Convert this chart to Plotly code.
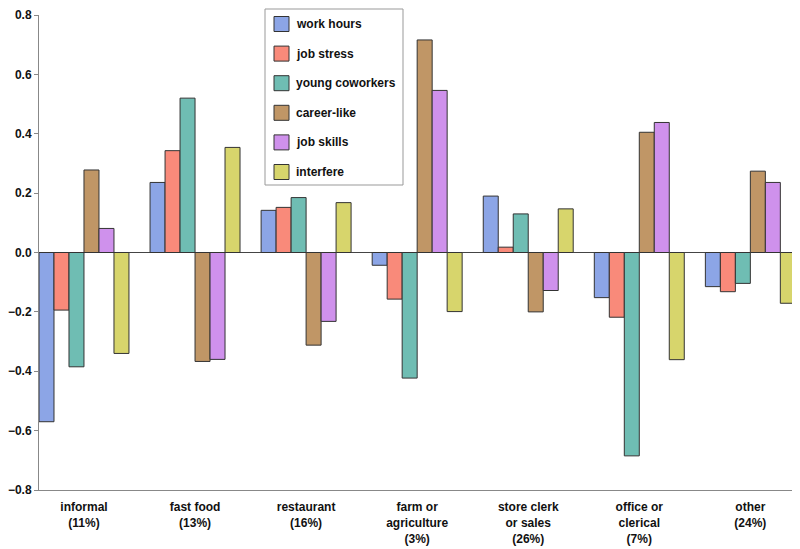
import plotly.graph_objects as go

categories = ["informal<br>(11%)", "fast food<br>(13%)", "restaurant<br>(16%)",
              "farm or<br>agriculture<br>(3%)", "store clerk<br>or sales<br>(26%)",
              "office or<br>clerical<br>(7%)", "other<br>(24%)"]

work_hours = [-0.57, 0.236, 0.142, -0.043, 0.19, -0.152, -0.115]
job_stress = [-0.194, 0.343, 0.152, -0.157, 0.018, -0.218, -0.132]
young_coworkers = [-0.385, 0.52, 0.185, -0.423, 0.13, -0.685, -0.104]
career_like = [0.278, -0.367, -0.312, 0.716, -0.2, 0.405, 0.274]
job_skills = [0.081, -0.36, -0.232, 0.546, -0.128, 0.438, 0.236]
interfere = [-0.34, 0.354, 0.168, -0.199, 0.147, -0.361, -0.171]

series_names = ["work hours", "job stress", "young coworkers", "career-like", "job skills", "interfere"]
series_values = [work_hours, job_stress, young_coworkers, career_like, job_skills, interfere]
colors = ["#8ca5e6", "#f98a7a", "#6fbdb3", "#c09666", "#cf91ec", "#d7d56c"]

W, H = 792, 541
ML, MR, MT, MB = 31, 3, 7, 59
PW, PH = W - ML - MR, H - MT - MB


def px_x(x):
    return (x - ML) / PW


def px_y(y):
    return (MT + PH - y) / PH


fig = go.Figure()
for name, vals, col in zip(series_names, series_values, colors):
    fig.add_trace(go.Bar(
        x=list(range(len(categories))), y=vals, name=name,
        marker=dict(color=col, line=dict(color="#333333", width=1)),
        showlegend=False,
    ))

font = "Liberation Sans, Arial, sans-serif"

# hand-drawn legend box (figure pixel coords converted to paper coords)
shapes = [dict(type="rect", xref="paper", yref="paper",
               x0=px_x(257), x1=px_x(395), y0=px_y(177), y1=px_y(1),
               line=dict(color="#999999", width=1), fillcolor="white", layer="above")]
annotations = []
for i, (name, col) in enumerate(zip(series_names, colors)):
    cy = 16 + 29.6 * i
    shapes.append(dict(type="rect", xref="paper", yref="paper",
                       x0=px_x(266), x1=px_x(281), y0=px_y(cy + 7.5), y1=px_y(cy - 7.5),
                       line=dict(color="#333333", width=1), fillcolor=col, layer="above"))
    annotations.append(dict(xref="paper", yref="paper", x=px_x(286), y=px_y(cy),
                            xanchor="left", yanchor="middle", showarrow=False, text=name,
                            font=dict(family=font, size=12, color="#111111", weight="bold")))

fig.update_layout(
    width=W, height=H,
    margin=dict(l=ML, r=MR, t=MT, b=MB, autoexpand=False),
    paper_bgcolor="white", plot_bgcolor="white",
    barmode="group", bargap=0.19, bargroupgap=0,
    font=dict(family=font, size=12, color="#111111"),
    showlegend=False,
    shapes=shapes, annotations=annotations,
    xaxis=dict(
        range=[-0.405, 6.42], automargin=False,
        tickmode="array", tickvals=list(range(len(categories))), ticktext=categories,
        showline=True, linecolor="#888888", linewidth=1,
        showgrid=False, zeroline=False, ticks="", ticklen=0, ticklabelstandoff=6,
        tickfont=dict(family=font, size=12, weight="bold", color="#111111"),
    ),
    yaxis=dict(
        range=[-0.8, 0.8], tickmode="array", automargin=False,
        tickvals=[-0.8, -0.6, -0.4, -0.2, 0, 0.2, 0.4, 0.6, 0.8],
        tickformat=".1f",
        showline=True, linecolor="#888888", linewidth=1,
        ticks="outside", ticklen=4, tickcolor="#888888",
        showgrid=False, zeroline=True, zerolinecolor="#444444", zerolinewidth=1,
        tickfont=dict(family=font, size=12, weight="bold", color="#111111"),
    ),
)

fig.write_html("out.html")
